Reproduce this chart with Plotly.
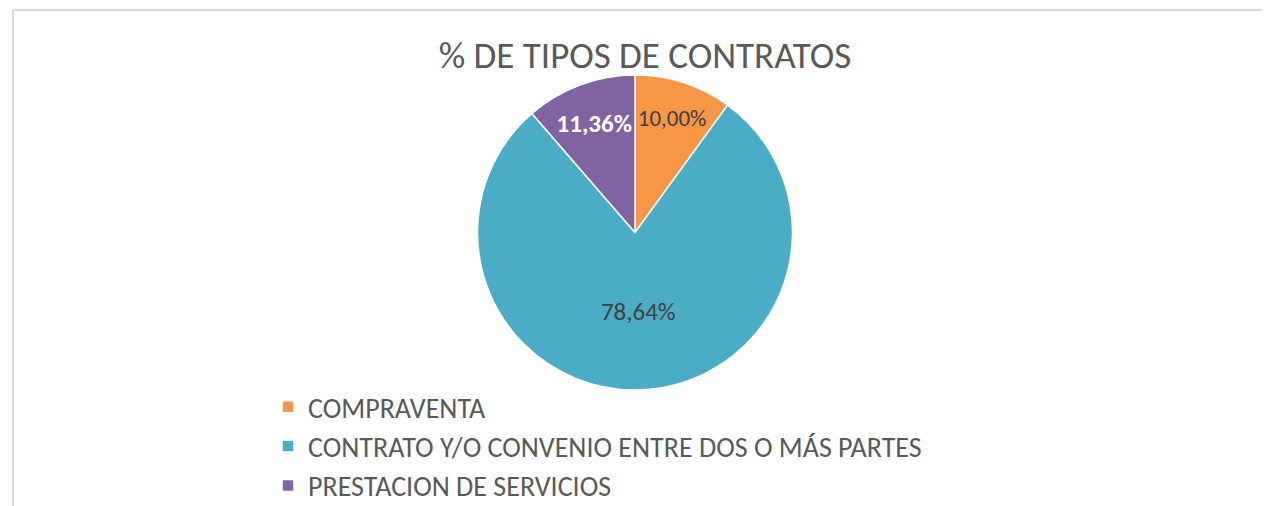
import plotly.graph_objects as go

categories = ["COMPRAVENTA", "CONTRATO Y/O CONVENIO ENTRE DOS O MÁS PARTES", "PRESTACION DE SERVICIOS"]
values = [10.00, 78.64, 11.36]
label_text = ["10,00%", "78,64%", "<b>11,36%</b>"]
colors = ["#F79646", "#4BACC6", "#8064A2"]
text_colors = ["#404040", "#404040", "#FFFFFF"]

# page body has an 8px margin, so the figure is drawn 8px in from the window edge
W, H = 1262, 498
OFF = 8
FONT = "Carlito, Calibri, Lato, Liberation Sans, Arial, sans-serif"


def py(y_screen):
    return 1 - (y_screen - OFF) / H


def px(x_screen):
    return (x_screen - OFF) / W


fig = go.Figure()
fig.add_trace(go.Pie(
    labels=categories,
    values=values,
    text=label_text,
    texttemplate="%{text}",
    textposition="inside",
    insidetextorientation="horizontal",
    textfont=dict(size=25, color=text_colors, family=FONT),
    marker=dict(colors=colors, line=dict(color="#FFFFFF", width=1.5)),
    sort=False,
    direction="clockwise",
    rotation=0,
    hole=0,
    domain=dict(x=[0, 2 * px(635)], y=[py(390), py(75)]),
))

fig.update_layout(
    width=W, height=H,
    margin=dict(l=0, r=0, t=0, b=0, autoexpand=False),
    paper_bgcolor="#FFFFFF",
    plot_bgcolor="#FFFFFF",
    title=dict(text="% DE TIPOS DE CONTRATOS", x=px(645), xanchor="center",
               y=py(55), yanchor="middle",
               font=dict(size=37, color="#595959", family=FONT)),
    legend=dict(xref="container", yref="container",
                x=px(268), xanchor="left", y=py(382), yanchor="top",
                font=dict(size=28, color="#595959", family=FONT),
                bgcolor="rgba(0,0,0,0)", tracegroupgap=0),
    shapes=[
        dict(type="line", xref="paper", yref="paper", x0=px(13), x1=1, y0=py(10), y1=py(10),
             line=dict(color="#D9D9D9", width=2)),
        dict(type="line", xref="paper", yref="paper", x0=px(13), x1=px(13), y0=0, y1=py(10),
             line=dict(color="#D9D9D9", width=2)),
    ],
)

fig.write_html("out.html")
